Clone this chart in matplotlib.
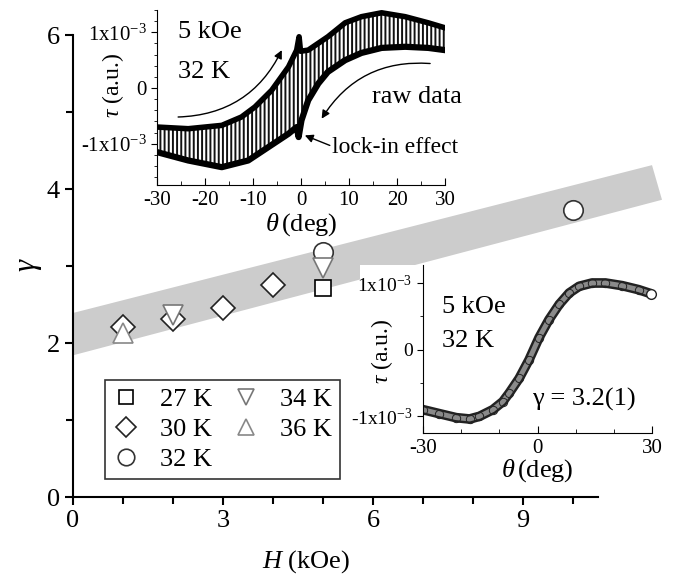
import numpy as np
import matplotlib
matplotlib.use('Agg')
import matplotlib.pyplot as plt
from matplotlib.patches import Polygon, Rectangle
from matplotlib.ticker import MultipleLocator, FixedLocator

plt.rcParams['font.family'] = 'Liberation Serif'
plt.rcParams['mathtext.fontset'] = 'custom'
plt.rcParams['mathtext.rm'] = 'Liberation Serif'
plt.rcParams['mathtext.it'] = 'Liberation Serif:italic'
plt.rcParams['axes.unicode_minus'] = False
plt.rcParams['hatch.linewidth'] = 1.4

# main panel: gamma vs field, per temperature
H_27 = [5]
g_27 = [2.71]
H_30 = [1, 2, 3, 4]
g_30 = [2.21, 2.31, 2.46, 2.75]
H_32 = [5, 10]
g_32 = [3.18, 3.73]
H_34 = [2, 5]
g_34 = [2.37, 2.97]
H_36 = [1]
g_36 = [2.13]

# grey guide band (corners in H, gamma)
band_H = [0, 11.78, 11.58, 0]
band_g = [1.84, 3.86, 4.31, 2.39]

# upper inset: raw torque envelope (units of 1e-3)
th_up = [-30, -23.5, -16.5, -12.4, -9.6, -6.1, -2.6, -0.9, -0.4, -0.1, 1.5, 5.6, 9.2, 12.6, 16.8, 21.7, 26.5, 30]
tau_up = [-0.70, -0.73, -0.67, -0.52, -0.34, -0.04, 0.38, 0.68, 0.92, 0.66, 0.68, 0.92, 1.17, 1.28, 1.35, 1.28, 1.17, 1.08]
th_lo = [-30, -23.5, -16.5, -11, -6.8, -2.6, -0.9, -0.5, 0.1, 1.5, 3.6, 5.6, 9.2, 12.6, 16.8, 21.7, 26.5, 30]
tau_lo = [-1.15, -1.30, -1.42, -1.30, -1.06, -0.82, -0.70, -0.88, -0.58, -0.22, 0.08, 0.29, 0.50, 0.63, 0.72, 0.74, 0.72, 0.68]

# lower inset: averaged torque (units of 1e-3)
th_avg = [-30, -25.7, -21.3, -17.8, -15.2, -11.7, -9.1, -7.4, -4.8, -2.2, 0.4, 3.0, 5.7, 8.3, 10.9, 14.3, 17.8, 22.2, 26.5, 29.7]
tau_avg = [-0.90, -0.96, -1.02, -1.04, -1.00, -0.90, -0.78, -0.65, -0.43, -0.15, 0.18, 0.45, 0.68, 0.85, 0.95, 1.00, 1.00, 0.96, 0.90, 0.84]

W, Hpx = 678, 581
fig = plt.figure(figsize=(W / 100, Hpx / 100), dpi=100)


def fbox(l, t, r, b):
    return [l / W, 1 - b / Hpx, (r - l) / W, (b - t) / Hpx]


ax = fig.add_axes(fbox(73, 35, 598, 497))
ax.set_zorder(1)
ax.add_patch(Polygon(list(zip(band_H, band_g)), closed=True, fc='#cccccc', ec='none',
                     clip_on=False, zorder=1))

mk = dict(mfc='white', ls='none', zorder=3, clip_on=False)
ax.plot(H_27, g_27, 's', ms=12, mec='black', mew=1.2, label='27 K', **mk)
ax.plot(H_30, g_30, 'D', ms=12, mec='#222222', mew=1.2, label='30 K', **mk)
ax.plot(H_32, g_32, 'o', ms=14, mec='#333333', mew=1.2, label='32 K', **mk)
ax.plot(H_34, g_34, 'v', ms=14, mec='#777777', mew=1.2, label='34 K', **mk)
ax.plot(H_36, g_36, '^', ms=14, mec='#888888', mew=1.2, label='36 K', **mk)

ax.set_xlim(0, 10.5)
ax.set_ylim(0, 6)
for s in ['top', 'right']:
    ax.spines[s].set_visible(False)
for s in ['left', 'bottom']:
    ax.spines[s].set_linewidth(1.5)
ax.xaxis.set_major_locator(MultipleLocator(3))
ax.xaxis.set_minor_locator(MultipleLocator(1))
ax.yaxis.set_major_locator(MultipleLocator(2))
ax.yaxis.set_minor_locator(MultipleLocator(1))
ax.tick_params(which='major', direction='out', length=6, width=1.5, labelsize=19)
ax.tick_params(which='minor', direction='out', length=5, width=1.5)

leg = ax.legend(ncol=2, loc='lower left', bbox_to_anchor=(0.061, 0.039, 0.448, 0.227),
                mode='expand', fancybox=False, edgecolor='black', fontsize=19,
                handlelength=1.0, handletextpad=0.8, columnspacing=0.6, labelspacing=0.25,
                borderaxespad=0, borderpad=0.3, numpoints=1, markerscale=0.85)
leg.get_frame().set_linewidth(1.2)

fig.text(30 / W, 1 - 265 / Hpx, r'$\gamma$', fontsize=22, rotation=90, ha='center', va='center')
fig.text(306 / W, 1 - 562 / Hpx, r'$H$ (kOe)', fontsize=19, ha='center', va='center')

# white background behind lower inset
fig.add_artist(Rectangle((360 / W, 1 - 485 / Hpx), (675 - 360) / W, (485 - 265) / Hpx,
                         transform=fig.transFigure, fc='white', ec='none', zorder=2))

# ---- upper inset
a1 = fig.add_axes(fbox(157, 10, 445, 185))
a1.set_zorder(3)
a1.patch.set_alpha(0)
xs = np.concatenate([th_up, th_lo[::-1]])
ys = np.concatenate([tau_up, tau_lo[::-1]])
a1.fill(xs, ys, facecolor='white', edgecolor='#111111', hatch='||||', linewidth=0)
a1.plot(th_up, tau_up, 'k-', lw=4)
a1.plot(th_lo, tau_lo, 'k-', lw=4.5)
a1.set_xlim(-30, 30)
a1.set_ylim(-1.74, 1.4)
for s in ['top', 'right']:
    a1.spines[s].set_visible(False)
a1.xaxis.set_major_locator(MultipleLocator(10))
a1.xaxis.set_minor_locator(MultipleLocator(5))
a1.yaxis.set_major_locator(FixedLocator([-1, 0, 1]))
a1.yaxis.set_minor_locator(MultipleLocator(0.2))
a1.set_yticklabels(['-1x10$^{\\mathregular{-3}}$', '0', '1x10$^{\\mathregular{-3}}$'])
a1.tick_params(axis='x', which='both', direction='in', labelsize=15, pad=4)
a1.tick_params(axis='x', which='major', length=5)
a1.tick_params(axis='x', which='minor', length=3)
a1.tick_params(axis='y', which='both', direction='out', labelsize=15)
a1.tick_params(axis='y', which='major', length=4)
a1.tick_params(axis='y', which='minor', length=2.5)
a1.set_xlabel(r'$\theta\,$(deg)', fontsize=19, labelpad=1)
a1.text(-0.153, 0.571, r'$\tau$ (a.u.)', fontsize=17, rotation=90, ha='center', va='center',
        transform=a1.transAxes)
a1.text(-25.6, 1.0, '5 kOe', fontsize=19, va='center')
a1.text(-25.6, 0.28, '32 K', fontsize=19, va='center')
a1.text(14.7, -0.16, 'raw data', fontsize=19, va='center')
a1.text(6.4, -1.06, 'lock-in effect', fontsize=17, va='center')
a1.annotate('', xy=(-4.0, 0.68), xytext=(-25.6, -0.52),
            arrowprops=dict(arrowstyle='-|>', color='k', lw=1, mutation_scale=12,
                            connectionstyle='arc3,rad=0.3', shrinkA=0, shrinkB=0))
a1.annotate('', xy=(4.3, -0.55), xytext=(26.9, 0.44),
            arrowprops=dict(arrowstyle='-|>', color='k', lw=1, mutation_scale=12,
                            connectionstyle='arc3,rad=0.3', shrinkA=0, shrinkB=0))
a1.annotate('', xy=(0.8, -0.85), xytext=(6.0, -1.03),
            arrowprops=dict(arrowstyle='-|>', color='k', lw=1, mutation_scale=12,
                            shrinkA=0, shrinkB=0))

# ---- lower inset
a2 = fig.add_axes(fbox(423, 265, 652, 433))
a2.set_zorder(3)
a2.patch.set_alpha(0)
a2.plot(th_avg, tau_avg, '-', color='#222222', lw=7, solid_capstyle='round')
a2.plot(th_avg, tau_avg, '-', color='#8a8a8a', lw=3.5, solid_capstyle='round')
a2.plot(th_avg, tau_avg, 'o', ms=6, mfc='none', mec='#222222', mew=0.7)
a2.plot(th_avg[-1:], tau_avg[-1:], 'o', ms=7, mfc='white', mec='#222222', mew=1, clip_on=False)
a2.set_xlim(-30, 30)
a2.set_ylim(-1.25, 1.27)
for s in ['top', 'right']:
    a2.spines[s].set_visible(False)
a2.xaxis.set_major_locator(MultipleLocator(30))
a2.xaxis.set_minor_locator(MultipleLocator(10))
a2.yaxis.set_major_locator(FixedLocator([-1, 0, 1]))
a2.yaxis.set_minor_locator(MultipleLocator(0.5))
a2.set_yticklabels(['-1x10$^{\\mathregular{-3}}$', '0', '1x10$^{\\mathregular{-3}}$'])
a2.tick_params(axis='x', which='both', direction='in', labelsize=15, pad=4)
a2.tick_params(axis='x', which='major', length=5)
a2.tick_params(axis='x', which='minor', length=3)
a2.tick_params(axis='y', which='both', direction='out', labelsize=14)
a2.tick_params(axis='y', which='major', length=4)
a2.tick_params(axis='y', which='minor', length=2.5)
a2.set_xlabel(r'$\theta\,$(deg)', fontsize=19, labelpad=0)
a2.text(-0.179, 0.488, r'$\tau$ (a.u.)', fontsize=17, rotation=90, ha='center', va='center',
        transform=a2.transAxes)
a2.text(-25.1, 0.64, '5 kOe', fontsize=19, va='center')
a2.text(-25.1, 0.125, '32 K', fontsize=19, va='center')
a2.text(-1.55, -0.75, 'γ = 3.2(1)', fontsize=19, va='center')

fig.savefig('out.png', dpi=100)
